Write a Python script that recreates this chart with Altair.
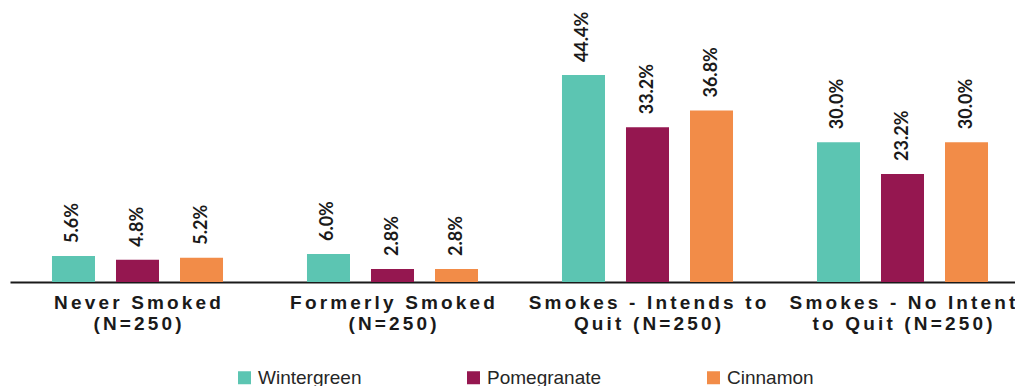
import altair as alt
import pandas as pd

# Survey groups (two-line labels split on "|") and flavour series, values in percent
groups = ["Never Smoked|(N=250)", "Formerly Smoked|(N=250)",
          "Smokes - Intends to|Quit (N=250)", "Smokes - No Intent|to Quit (N=250)"]
flavors = ["Wintergreen", "Pomegranate", "Cinnamon"]
wintergreen = [5.6, 6.0, 44.4, 30.0]
pomegranate = [4.8, 2.8, 33.2, 23.2]
cinnamon = [5.2, 2.8, 36.8, 30.0]
colors = ["#5cc5b2", "#951750", "#f28c48"]


def spaced(label):
    # widen the tracking of each line with six-per-em spaces between characters
    return "|".join("\u2006".join(line) for line in label.split("|"))


group_labels = [spaced(g) for g in groups]

rows = []
for series_name, values in zip(flavors, [wintergreen, pomegranate, cinnamon]):
    for g, v in zip(group_labels, values):
        rows.append({"group": g, "flavor": series_name, "value": v})
df = pd.DataFrame(rows)

base = alt.Chart(df).encode(
    x=alt.X(
        "group:N",
        sort=group_labels,
        scale=alt.Scale(range=[0, 1020], paddingInner=0, paddingOuter=0),
        axis=alt.Axis(
            title=None,
            labelExpr="split(datum.label, '|')",
            labelAngle=0,
            ticks=False,
            grid=False,
            domainColor="#1a1a1a",
            domainWidth=2,
            labelFont="Liberation Sans",
            labelFontWeight="bold",
            labelFontSize=19,
            labelColor="#1a1a1a",
            labelPadding=11,
            labelLineHeight=21,
            labelLimit=0,
            labelOverlap=False,
        ),
    ),
    xOffset=alt.XOffset(
        "flavor:N", sort=flavors,
        scale=alt.Scale(paddingInner=0.328, paddingOuter=0.656),
    ),
    y=alt.Y("value:Q", scale=alt.Scale(domain=[0, 50], nice=False), axis=None),
)

bars = base.mark_bar().encode(
    color=alt.Color(
        "flavor:N",
        sort=flavors,
        scale=alt.Scale(domain=flavors, range=colors),
        legend=alt.Legend(
            title=None,
            orient="none",
            legendX=225,
            legendY=319,
            direction="horizontal",
            symbolType="square",
            symbolSize=169,
            symbolStrokeWidth=0,
            labelFont="Liberation Sans",
            labelFontSize=19,
            labelColor="#262626",
            labelOffset=4,
            columnPadding=102,
        ),
    )
)

labels = base.transform_calculate(
    label="format(datum.value, '.1f') + '%'"
).mark_text(
    angle=270, align="left", baseline="middle", dx=13,
    font="Lato", fontWeight="bold", fontSize=18, color="#1a1a1a",
).encode(text="label:N")

chart = (
    alt.layer(bars, labels)
    .properties(
        width=1005,
        height=233,
        autosize=alt.AutoSizeParams(type="none"),
        padding={"left": 10, "top": 49, "right": 0, "bottom": 104},
        background="white",
    )
    .configure_view(strokeWidth=0)
)

chart.save("out.html", embed_options={"renderer": "svg", "actions": False})
